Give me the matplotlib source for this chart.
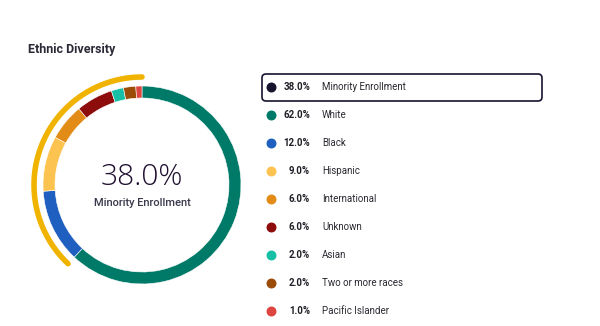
import matplotlib.pyplot as plt
import numpy as np
from matplotlib.patches import FancyBboxPatch

# Data
categories = ['White', 'Black', 'Hispanic', 'International', 'Unknown',
              'Asian', 'Two or more races', 'Pacific Islander']
values = [62.0, 12.0, 9.0, 6.0, 6.0, 2.0, 2.0, 1.0]
colors = ['#007a68', '#1f5fbf', '#fdc350', '#e38b17', '#8d0c0c',
          '#16bfa6', '#9a4c08', '#dc4540']
minority_value = 38.0
minority_label = 'Minority Enrollment'

W, H = 600, 326
fig = plt.figure(figsize=(6, 3.26), dpi=100)
ax = fig.add_axes([0, 0, 1, 1])

cx, cy = 142, H - 185
R = 99

ax.pie(values, colors=colors, startangle=90, counterclock=False,
       radius=R, center=(cx, cy),
       wedgeprops=dict(width=12, edgecolor='white', linewidth=0.4))

# outer arc for the minority share (ends at the top, runs counter-clockwise)
r_arc = 108
theta0 = 90
theta1 = 90 + 360 * minority_value / 100
th = np.radians(np.linspace(theta0, theta1, 200))
ax.plot(cx + r_arc * np.cos(th), cy + r_arc * np.sin(th), color='#f0b400',
        linewidth=4, solid_capstyle='round')

ax.set_xlim(0, W)
ax.set_ylim(0, H)
ax.set_aspect('equal')
ax.axis('off')

# title
ax.text(28, H - 50, 'Ethnic Diversity', fontsize=9, fontweight='bold',
        color='#2b2b38', family='Roboto', va='center', ha='left')

# center text
ax.text(cx, H - 177, f'{minority_value:.1f}%', fontsize=21.5, color='#1e0f30',
        family='Open Sans', fontweight='light', ha='center', va='center')
ax.text(cx, H - 203, minority_label, fontsize=8, color='#3a3a4c',
        family='Roboto', fontweight='medium', ha='center', va='center')

# legend
leg_labels = [minority_label] + categories
leg_values = [minority_value] + values
leg_colors = ['#15132e'] + colors
y0, dy = 87, 28
for i, (lab, v, c) in enumerate(zip(leg_labels, leg_values, leg_colors)):
    y = H - (y0 + i * dy)
    ax.scatter([271], [y], s=38, color=c, zorder=3)
    ax.text(310, y, f'{v:.1f}%', fontsize=7, fontweight='bold', color='#1e1e26',
            family='Roboto', ha='right', va='center')
    ax.text(322, y, lab, fontsize=7, color='#2a2a32', family='Roboto',
            ha='left', va='center')

box = FancyBboxPatch((262, H - 101), 280, 27,
                     boxstyle='round,pad=0,rounding_size=4',
                     facecolor='none', edgecolor='#15132e', linewidth=1.2)
ax.add_patch(box)

fig.savefig('out.png', dpi=100, facecolor='white')
